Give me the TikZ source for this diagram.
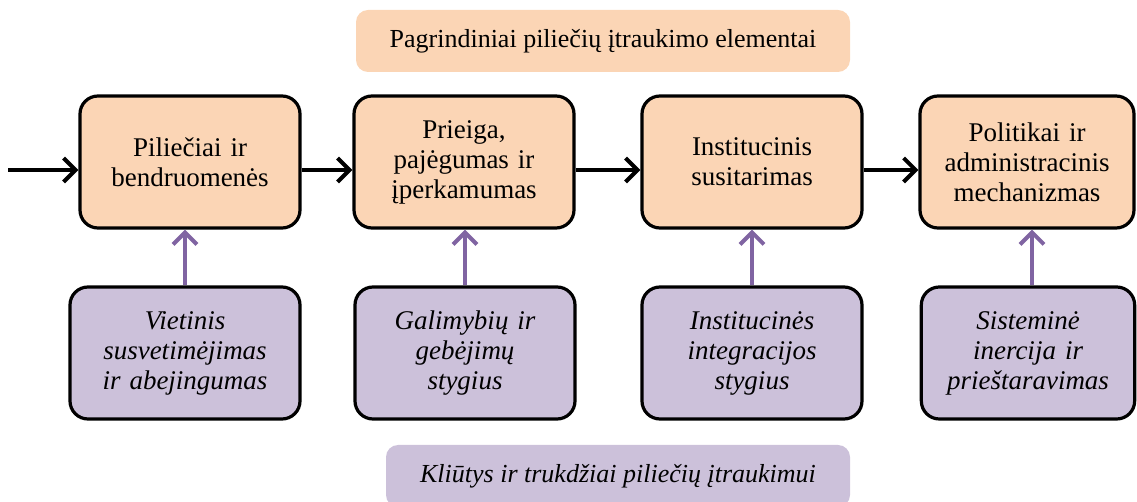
\documentclass[tikz,border=0pt]{standalone}
\usepackage{fontspec}
\setmainfont{Liberation Serif}
\usetikzlibrary{arrows.meta}
\definecolor{peach}{HTML}{FBD5B5}
\definecolor{lilac}{HTML}{CCC1DA}
\definecolor{plum}{HTML}{8064A2}

\begin{document}
\begin{tikzpicture}[x=0.5pt,y=-0.5pt,>={Straight Barb[length=6pt,width=12pt]},
		elem/.style={draw, line width=1.6pt, rounded corners=9pt, fill=peach, minimum width=110pt, minimum height=66pt, text width=100pt, align=center, font=\fontsize{13.5}{15}\selectfont},
		barrier/.style={elem, fill=lilac, font=\fontsize{13.5}{15}\selectfont\itshape},
		banner/.style={rounded corners=6pt, minimum height=31pt, font=\fontsize{13}{15}\selectfont},
		flow/.style={->, line width=2pt},
		push/.style={->, line width=2pt, plum}]
		\useasboundingbox (0,0) rectangle (1137,502);

		\node (top) [banner, fill=peach, minimum width=247pt] at (603,41) {Pagrindiniai piliečių įtraukimo elementai};
		\node (bottom) [banner, fill=lilac, minimum width=232pt, font=\fontsize{13}{15}\selectfont\itshape] at (618,476) {Kliūtys ir trukdžiai piliečių įtraukimui};

		\node (elem1) [elem] at (190,162) {Piliečiai ir\\ bendruomenės};
		\node (elem2) [elem] at (464,162) {Prieiga,\\ pajėgumas ir\\ įperkamumas};
		\node (elem3) [elem] at (752,162) {Institucinis\\ susitarimas};
		\node (elem4) [elem, minimum width=107pt] at (1027,162) {Politikai ir\\ administracinis\\ mechanizmas};

		\node (bar1) [barrier, minimum width=115pt] at (185,353) {Vietinis\\ susvetimėjimas\\ ir abejingumas};
		\node (bar2) [barrier] at (465,353) {Galimybių ir\\ gebėjimų\\ stygius};
		\node (bar3) [barrier] at (752,353) {Institucinės\\ integracijos\\ stygius};
		\node (bar4) [barrier, minimum width=106pt] at (1028,353) {Sisteminė\\ inercija ir\\ prieštaravimas};

		\coordinate (start) at (8,170);
		\draw [flow] (start) -- (start -| elem1.west);
		\draw [flow] ([yshift=-4pt]elem1.east) -- ([yshift=-4pt]elem2.west);
		\draw [flow] ([yshift=-4pt]elem2.east) -- ([yshift=-4pt]elem3.west);
		\draw [flow] ([yshift=-4pt]elem3.east) -- ([yshift=-4pt]elem4.west);

		\draw [push] (bar1.north) -- (bar1.north |- elem1.south);
		\draw [push] (bar2.north) -- (bar2.north |- elem2.south);
		\draw [push] (bar3.north) -- (bar3.north |- elem3.south);
		\draw [push] ([xshift=2pt]bar4.north) -- ([xshift=2pt]bar4.north |- elem4.south);
	\end{tikzpicture}
\end{document}
